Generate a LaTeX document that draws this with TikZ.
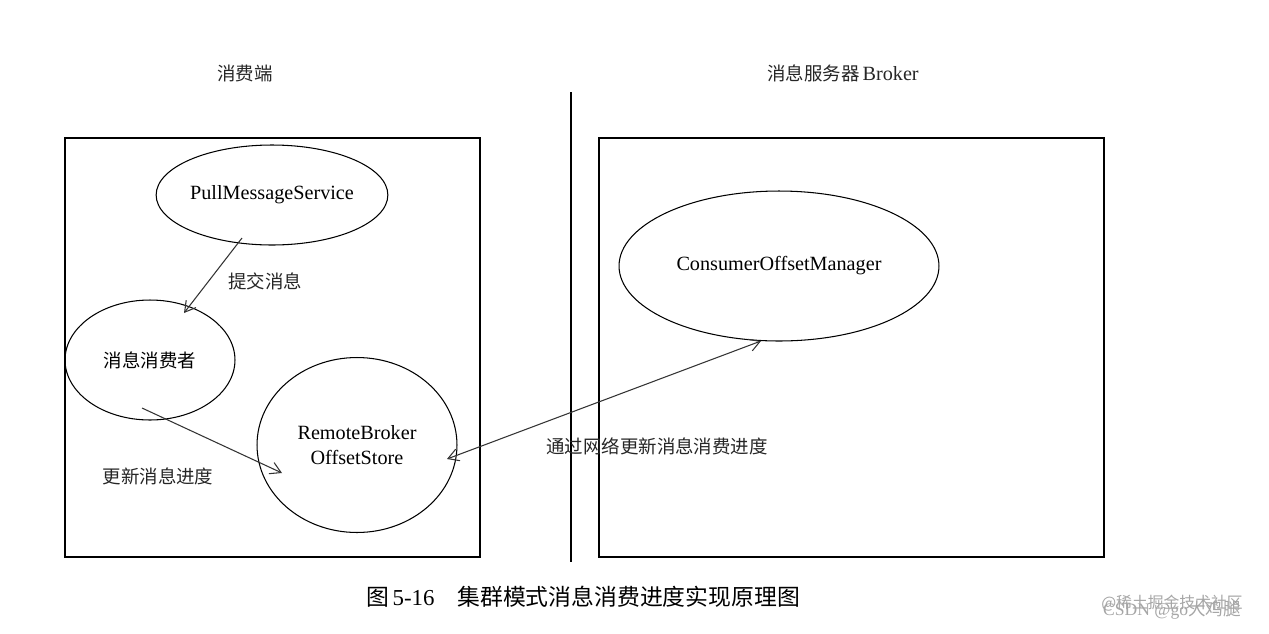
\documentclass[tikz,border=0pt]{standalone}
\usepackage{fontspec}
\setmainfont{Liberation Serif}
\newfontfamily\cjk{Noto Sans CJK SC}
\usetikzlibrary{arrows.meta,shapes.geometric}
\begin{document}
\begin{tikzpicture}[x=0.02cm,y=-0.02cm,line width=0.6pt,
  ell/.style={draw,ellipse,inner sep=0pt,align=center,font=\fontsize{11.5}{14}\selectfont},
  lbl/.style={font=\cjk\fontsize{10.5}{12}\selectfont,text=black!85},
  arr/.style={-{Straight Barb[length=6pt,width=7pt]},black!80}]
\useasboundingbox (0,0) rectangle (1269,633);
\fill[white] (0,0) rectangle (1269,633);
\draw (65,138) rectangle (480,557);
\draw (599,138) rectangle (1104,557);
\draw (571,92) -- (571,562);
\node[lbl] (t1) at (245,73) {消费端};
\node[lbl] (t2) at (843,73) {消息服务器\,\rmfamily\fontsize{11.5}{12}\selectfont Broker};
\node[ell,minimum width=4.32cm,minimum height=2cm] (pms) at (272,195) {PullMessageService};
\node[ell,font=\cjk\fontsize{10.5}{12}\selectfont,minimum width=3.4cm,minimum height=2.4cm] (con) at (150,360) {消息消费者};
\node[ell,minimum width=4cm,minimum height=3.5cm] (rbo) at (357,445) {RemoteBroker\\OffsetStore};
\node[ell,minimum width=6.4cm,minimum height=3cm] (com) at (779,266) {ConsumerOffsetManager};
\coordinate (a1) at (242,238); \coordinate (b1) at (184,313);
\coordinate (a2) at (142,408); \coordinate (b2) at (282,473);
\coordinate (a3) at (447,459); \coordinate (b3) at (761,341);
\draw[arr] (a1) -- (b1);
\draw[arr] (a2) -- (b2);
\draw[arr,{Straight Barb[length=6pt,width=7pt]}-{Straight Barb[length=6pt,width=7pt]}] (a3) -- (b3);
\node[lbl] (l1) at (265,281) {提交消息};
\node[lbl] (l2) at (158,476) {更新消息进度};
\node[lbl,anchor=west] (l3) at (540,446) {通过网络更新消息消费进度};
\node[font=\fontsize{13}{15}\selectfont] (cap) at (583,597) {{\cjk 图}\,5-16\quad{\cjk 集群模式消息消费进度实现原理图}};
\node[text=black!35,font=\cjk\fontsize{9}{11}\selectfont] (w1) at (1172,603) {@稀土掘金技术社区};
\node[text=black!35,font=\fontsize{10}{11}\selectfont] (w2) at (1172,610) {CSDN @go{\cjk 大鸡腿}};
\end{tikzpicture}
\end{document}
